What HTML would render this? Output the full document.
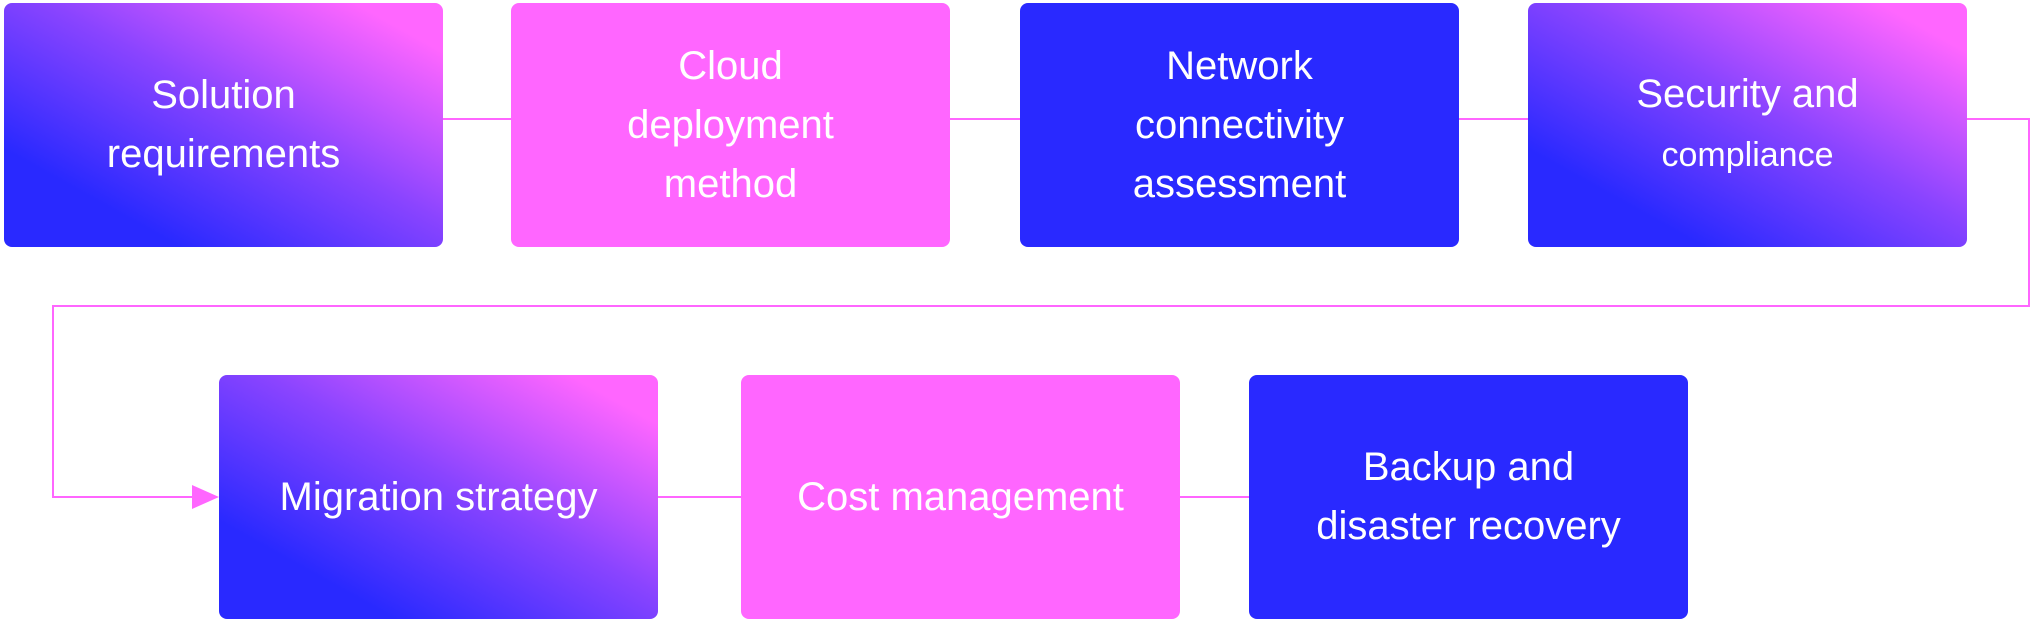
<!DOCTYPE html>
<html><head><style>
html,body{margin:0;padding:0;background:#fff;width:2035px;height:627px;overflow:hidden}
.b{position:absolute;width:439px;height:244px;border-radius:8px;display:flex;align-items:center;justify-content:center;text-align:center;color:#fff;font-family:"Liberation Sans",sans-serif;font-size:40px;line-height:59px}
.p{background:#ff66ff}
.u{background:#2929ff}
.g{background:linear-gradient(to top right,#2929ff 20%,#8a44ff 55%,#ff66ff 90%)}
</style></head><body>
<svg width="2035" height="627" style="position:absolute;left:0;top:0">
<g stroke="#ff66ff" stroke-width="2" fill="none">
<line x1="443" y1="119" x2="511" y2="119"/>
<line x1="950" y1="119" x2="1020" y2="119"/>
<line x1="1459" y1="119" x2="1528" y2="119"/>
<polyline points="1967,119 2029,119 2029,306 53,306 53,497 195,497"/>
<line x1="658" y1="497" x2="741" y2="497"/>
<line x1="1180" y1="497" x2="1249" y2="497"/>
</g>
<polygon points="192,485 219,497 192,509" fill="#ff66ff"/>
</svg>
<div class="b g" style="left:4px;top:3px">Solution<br>requirements</div>
<div class="b p" style="left:511px;top:3px">Cloud<br>deployment<br>method</div>
<div class="b u" style="left:1020px;top:3px">Network<br>connectivity<br>assessment</div>
<div class="b g" style="left:1528px;top:3px"><span>Security and<br><span style="font-size:34px">compliance</span></span></div>
<div class="b g" style="left:219px;top:375px">Migration strategy</div>
<div class="b p" style="left:741px;top:375px">Cost management</div>
<div class="b u" style="left:1249px;top:375px">Backup and<br>disaster recovery</div>
</body></html>
